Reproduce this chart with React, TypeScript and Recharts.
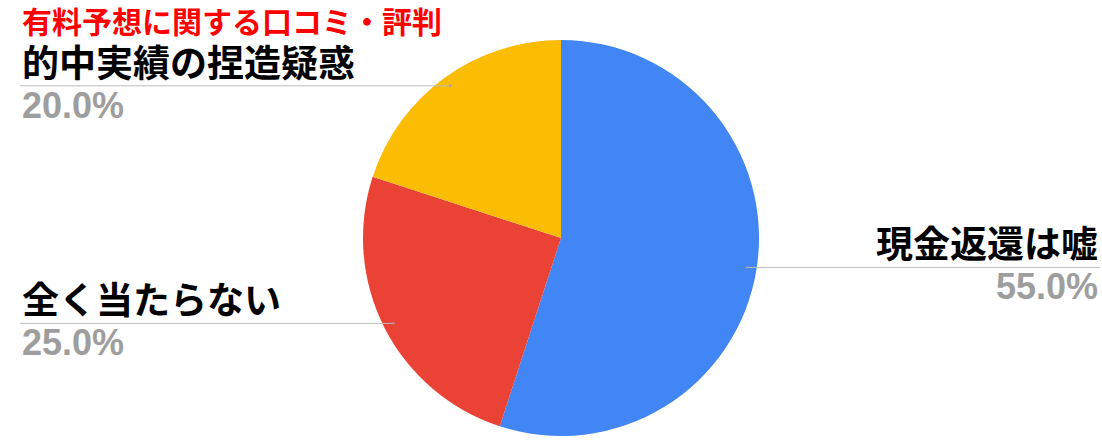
import React from "react";
import { PieChart, Pie, Cell } from "recharts";

const names = ["現金返還は嘘", "全く当たらない", "的中実績の捏造疑惑"];
const values = [55, 25, 20];
const colors = ["#4285F4", "#EA4335", "#FBBC04"];
const title = "有料予想に関する口コミ・評判";

const data = names.map((name, i) => ({ name, value: values[i] }));

const RAD = Math.PI / 180;

const renderLabel = (props: any) => {
  const { cx, cy, midAngle, outerRadius, name, percent } = props;
  const r = outerRadius * 0.95;
  const px = cx + r * Math.cos(-midAngle * RAD);
  const py = cy + r * Math.sin(-midAngle * RAD);
  const right = Math.cos(-midAngle * RAD) >= 0;
  const x1 = right ? 1100 : 20;
  const tx = right ? 1098 : 22;
  const anchor = right ? "end" : "start";
  const pct = (percent * 100).toFixed(1) + "%";
  return (
    <g>
      <line x1={px} y1={py} x2={x1} y2={py} stroke="#bdbdbd" strokeWidth={1} />
      <circle cx={px} cy={py} r={1.2} fill="#9e9e9e" />
      <text
        x={tx}
        y={py - 9}
        textAnchor={anchor}
        fill="#000"
        fontSize={37}
        fontWeight="bold"
        fontFamily="'Noto Sans CJK JP', sans-serif"
      >
        {name}
      </text>
      <text
        x={tx}
        y={py + 32}
        textAnchor={anchor}
        fill="#9e9e9e"
        fontSize={36}
        fontWeight="bold"
        fontFamily="'Liberation Sans', Arial, sans-serif"
      >
        {pct}
      </text>
    </g>
  );
};

export default function App() {
  return (
    <div style={{ position: "absolute", left: 0, top: 0, width: 1102, height: 440, background: "#fff" }}>
      <PieChart width={1102} height={440} margin={{ top: 0, right: 0, bottom: 0, left: 0 }}>
        <Pie
          data={data}
          dataKey="value"
          nameKey="name"
          cx={561}
          cy={238}
          outerRadius={198}
          startAngle={90}
          endAngle={-270}
          stroke="none"
          label={renderLabel}
          labelLine={false}
          isAnimationActive={false}
        >
          {data.map((d, i) => (
            <Cell key={d.name} fill={colors[i]} />
          ))}
        </Pie>
      </PieChart>
      <div
        style={{
          position: "absolute",
          left: 22,
          top: 6,
          height: 28,
          lineHeight: "28px",
          fontSize: 30,
          fontWeight: "bold",
          color: "#ff0000",
          fontFamily: "'Noto Sans CJK JP', sans-serif",
          whiteSpace: "nowrap",
        }}
      >
        {title}
      </div>
    </div>
  );
}
